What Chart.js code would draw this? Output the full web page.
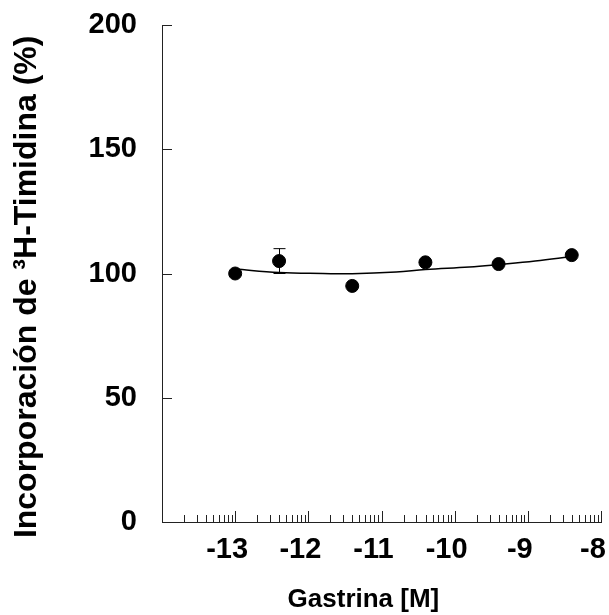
<!DOCTYPE html>
<html>
<head>
<meta charset="utf-8">
<script src="https://cdn.jsdelivr.net/npm/chart.js@4.4.1/dist/chart.umd.min.js"></script>
<style>
  html, body { margin: 0; padding: 0; background: #fff; }
  #wrap { width: 609px; height: 615px; }
</style>
</head>
<body>
<div id="wrap"><canvas id="chart"></canvas></div>
<script>
// log10 [gastrina] (M) vs % incorporation
const doseLog = [-13, -12.4, -11.4, -10.4, -9.4, -8.4];
const incorporation = [100, 105, 95, 104.5, 103.8, 107.4];
const errorSem = [0, 5, 0, 0, 0, 0];

// fitted curve
const fitLog = [-13, -12.4, -11.8, -11.4, -10.8, -10.4, -9.8, -9.4, -8.9, -8.4];
const fitValues = [101.8, 100.4, 100.0, 99.9, 100.6, 101.6, 102.6, 103.6, 105.0, 106.8];

const xTickValues = [-13, -12, -11, -10, -9, -8];
const yTickValues = [0, 50, 100, 150, 200];
const minorSteps = [2, 3, 4, 5, 6, 7, 8, 9];

const axisColor = '#222';
const tickFont = { family: 'Liberation Sans', size: 29, weight: 'bold' };

const insideTicks = {
  id: 'insideTicks',
  afterDraw(chart) {
    const { ctx, chartArea, scales: { x, y } } = chart;
    ctx.save();
    ctx.strokeStyle = axisColor;
    ctx.lineWidth = 1;
    ctx.beginPath();
    yTickValues.forEach((v) => {
      const py = Math.round(y.getPixelForValue(v)) + 0.5;
      ctx.moveTo(chartArea.left, py);
      ctx.lineTo(chartArea.left + 10, py);
    });
    for (let d = x.min; d < x.max; d++) {
      minorSteps.forEach((k) => {
        const px = Math.round(x.getPixelForValue(d + Math.log10(k))) + 0.5;
        ctx.moveTo(px, chartArea.bottom);
        ctx.lineTo(px, chartArea.bottom - 7);
      });
    }
    xTickValues.forEach((v) => {
      const px = Math.round(x.getPixelForValue(v)) + 0.5;
      ctx.moveTo(px, chartArea.bottom);
      ctx.lineTo(px, chartArea.bottom - 11);
    });
    ctx.stroke();
    ctx.restore();
  }
};

const errorBars = {
  id: 'errorBars',
  beforeDatasetsDraw(chart) {
    const { ctx, scales: { x, y } } = chart;
    ctx.save();
    ctx.strokeStyle = '#000';
    ctx.lineWidth = 1;
    ctx.beginPath();
    doseLog.forEach((v, i) => {
      if (!errorSem[i]) return;
      const px = Math.round(x.getPixelForValue(v)) + 0.5;
      const top = y.getPixelForValue(incorporation[i] + errorSem[i]);
      const bottom = y.getPixelForValue(incorporation[i] - errorSem[i]);
      ctx.moveTo(px, top);
      ctx.lineTo(px, bottom);
      ctx.moveTo(px - 6, top);
      ctx.lineTo(px + 6, top);
      ctx.moveTo(px - 6, bottom);
      ctx.lineTo(px + 6, bottom);
    });
    ctx.stroke();
    ctx.restore();
  }
};

const ctx = document.getElementById('chart').getContext('2d');

new Chart(ctx, {
  type: 'scatter',
  data: {
    datasets: [
      {
        type: 'line',
        data: fitLog.map((v, i) => ({ x: v, y: fitValues[i] })),
        borderColor: '#000',
        borderWidth: 1.5,
        pointRadius: 0,
        tension: 0.4,
        fill: false
      },
      {
        data: doseLog.map((v, i) => ({ x: v, y: incorporation[i] })),
        backgroundColor: '#000',
        borderColor: '#000',
        pointRadius: 6.5,
        pointHoverRadius: 6.5
      }
    ]
  },
  options: {
    responsive: true,
    maintainAspectRatio: false,
    animation: false,
    events: [],
    layout: { padding: { top: 25, right: 8, left: 0, bottom: 0 } },
    plugins: {
      legend: { display: false },
      tooltip: { enabled: false }
    },
    scales: {
      x: {
        type: 'linear',
        min: -14,
        max: -8,
        grid: { display: false, drawTicks: false },
        border: { display: true, color: axisColor, width: 1 },
        afterBuildTicks: (scale) => {
          scale.ticks = xTickValues.map((v) => ({ value: v }));
        },
        afterFit: (scale) => {
          scale.height = 93;
          scale.paddingLeft = 0;
          scale.paddingRight = 0;
        },
        ticks: {
          color: '#000',
          font: tickFont,
          padding: 11,
          labelOffset: -8,
          maxRotation: 0,
          autoSkip: false
        },
        title: {
          display: true,
          text: 'Gastrina [M]\u00a0\u00a0\u00a0\u00a0\u00a0',
          color: '#000',
          font: { family: 'Liberation Sans', size: 26, weight: 'bold' },
          padding: { top: 0, bottom: 0 }
        }
      },
      y: {
        min: 0,
        max: 200,
        grid: { display: false, drawTicks: false },
        border: { display: true, color: axisColor, width: 1 },
        afterBuildTicks: (scale) => {
          scale.ticks = yTickValues.map((v) => ({ value: v }));
        },
        afterFit: (scale) => {
          scale.width = 162;
          scale.paddingTop = 0;
          scale.paddingBottom = 0;
        },
        ticks: {
          color: '#000',
          font: tickFont,
          padding: 25
        },
        title: {
          display: true,
          text: 'Incorporación de ³H-Timidina (%)\u00a0\u00a0\u00a0',
          color: '#000',
          font: { family: 'Liberation Sans', size: 32, weight: 'bold' },
          padding: { top: 8, bottom: 0 }
        }
      }
    }
  },
  plugins: [insideTicks, errorBars]
});
</script>
</body>
</html>
